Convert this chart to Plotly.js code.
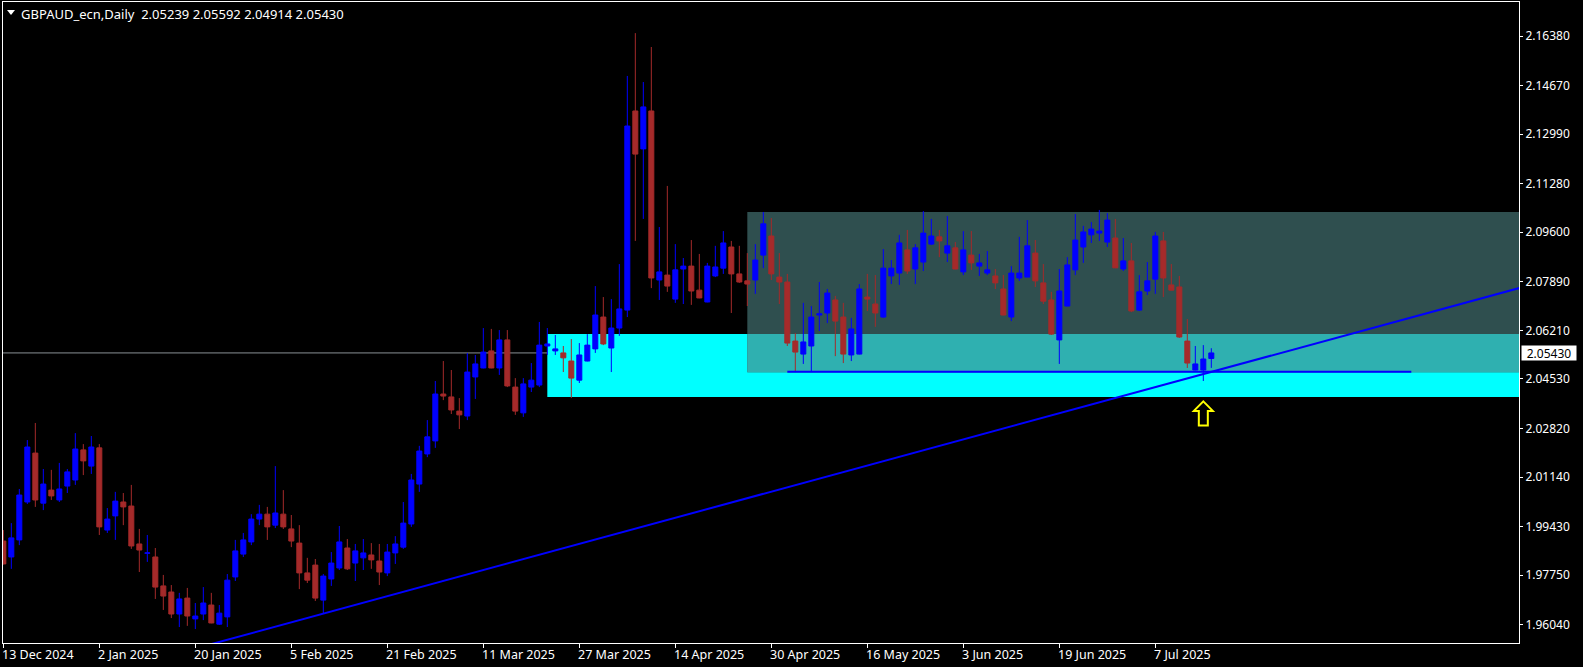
<!DOCTYPE html>
<html><head><meta charset="utf-8">
<script src="https://cdn.plot.ly/plotly-3.0.1.min.js"></script>
<style>html,body{margin:0;padding:0;background:#000;}#chart{width:1583px;height:667px;}</style>
</head><body><div id="chart"></div>
<script>
const dates = [
"2024-12-13","2024-12-16","2024-12-17","2024-12-18","2024-12-19","2024-12-20","2024-12-23","2024-12-24","2024-12-26","2024-12-27","2024-12-30","2024-12-31",
"2025-01-02","2025-01-03","2025-01-06","2025-01-07","2025-01-08","2025-01-09","2025-01-10","2025-01-13","2025-01-14","2025-01-15","2025-01-16","2025-01-17",
"2025-01-20","2025-01-21","2025-01-22","2025-01-23","2025-01-24","2025-01-27","2025-01-28","2025-01-29","2025-01-30","2025-01-31","2025-02-03","2025-02-04",
"2025-02-05","2025-02-06","2025-02-07","2025-02-10","2025-02-11","2025-02-12","2025-02-13","2025-02-14","2025-02-17","2025-02-18","2025-02-19","2025-02-20",
"2025-02-21","2025-02-24","2025-02-25","2025-02-26","2025-02-27","2025-02-28","2025-03-03","2025-03-04","2025-03-05","2025-03-06","2025-03-07","2025-03-10",
"2025-03-11","2025-03-12","2025-03-13","2025-03-14","2025-03-17","2025-03-18","2025-03-19","2025-03-20","2025-03-21","2025-03-24","2025-03-25","2025-03-26",
"2025-03-27","2025-03-28","2025-03-31","2025-04-01","2025-04-02","2025-04-03","2025-04-04","2025-04-07","2025-04-08","2025-04-09","2025-04-10","2025-04-11",
"2025-04-14","2025-04-15","2025-04-16","2025-04-17","2025-04-18","2025-04-21","2025-04-22","2025-04-23","2025-04-24","2025-04-25","2025-04-28","2025-04-29",
"2025-04-30","2025-05-01","2025-05-02","2025-05-05","2025-05-06","2025-05-07","2025-05-08","2025-05-09","2025-05-12","2025-05-13","2025-05-14","2025-05-15",
"2025-05-16","2025-05-19","2025-05-20","2025-05-21","2025-05-22","2025-05-23","2025-05-26","2025-05-27","2025-05-28","2025-05-29","2025-05-30","2025-06-02",
"2025-06-03","2025-06-04","2025-06-05","2025-06-06","2025-06-09","2025-06-10","2025-06-11","2025-06-12","2025-06-13","2025-06-16","2025-06-17","2025-06-18",
"2025-06-19","2025-06-20","2025-06-23","2025-06-24","2025-06-25","2025-06-26","2025-06-27","2025-06-30","2025-07-01","2025-07-02","2025-07-03","2025-07-04",
"2025-07-07","2025-07-08","2025-07-09","2025-07-10","2025-07-11","2025-07-14","2025-07-15","2025-07-16"];

const opens = [
1.9893,1.9838,1.9897,2.0028,2.0197,2.0024,2.0069,2.0035,2.0083,2.0104,2.0208,2.0152,
2.0215,1.9931,1.9980,2.0028,2.0014,1.9883,1.9851,1.9838,1.9738,1.9717,1.9641,1.9696,
1.9624,1.9641,1.9672,1.9606,1.9631,1.9769,1.9848,1.9890,1.9969,1.9986,1.9948,1.9986,
1.9935,1.9886,1.9783,1.9810,1.9689,1.9762,1.9800,1.9869,1.9817,1.9835,1.9845,1.9824,
1.9783,1.9852,1.9872,1.9952,2.0090,2.0194,2.0239,2.0401,2.0391,2.0342,2.0325,2.0460,
2.0491,2.0550,2.0491,2.0588,2.0425,2.0336,2.0425,2.0432,2.0567,2.0550,2.0543,2.0515,
2.0449,2.0515,2.0557,2.0667,2.0560,2.0629,2.0691,2.1379,2.1248,2.1379,2.0795,2.0812,
2.0729,2.0833,2.0843,2.0760,2.0719,2.0809,2.0836,2.0909,2.0816,2.0792,2.0795,2.0881,
2.0947,2.0805,2.0788,2.0584,2.0539,2.0567,2.0674,2.0681,2.0726,2.0667,2.0536,2.0539,
2.0736,2.0712,2.0667,2.0809,2.0819,2.0899,2.0833,2.0857,2.0919,2.0944,2.0888,2.0906,
2.0823,2.0881,2.0843,2.0819,2.0809,2.0764,2.0667,2.0802,2.0805,2.0888,2.0785,2.0726,
2.0588,2.0705,2.0830,2.0909,2.0951,2.0957,2.0926,2.0940,2.0833,2.0861,2.0691,2.0757,
2.0798,2.0930,2.0778,2.0771,2.0584,2.0484,2.0484,2.05239];

const highs = [
1.9931,1.9955,2.0073,2.0242,2.0301,2.0142,2.0139,2.0163,2.0142,2.0266,2.0228,2.0256,
2.0228,2.0007,2.0063,2.0059,2.0087,1.9935,1.9914,1.9869,1.9776,1.9741,1.9714,1.9731,
1.9679,1.9734,1.9714,1.9672,1.9779,1.9897,1.9921,1.9986,2.0018,2.0011,2.0152,2.0069,
1.9983,1.9948,1.9835,1.9831,1.9779,1.9855,1.9945,1.9900,1.9883,1.9900,1.9886,1.9883,
1.9883,1.9910,2.0028,2.0125,2.0222,2.0311,2.0446,2.0515,2.0484,2.0387,2.0543,2.0536,
2.0629,2.0626,2.0622,2.0622,2.0456,2.0456,2.0508,2.0650,2.0629,2.0605,2.0567,2.0591,
2.0577,2.0608,2.0774,2.0736,2.0729,2.0850,2.1500,2.1648,2.1479,2.1600,2.0978,2.1120,
2.0919,2.0871,2.0933,2.0885,2.0854,2.0913,2.0964,2.0930,2.0913,2.0888,2.0919,2.1030,
2.1009,2.0888,2.0816,2.0612,2.0716,2.0705,2.0788,2.0764,2.0740,2.0716,2.0664,2.0781,
2.0816,2.0812,2.0902,2.0864,2.0951,2.0968,2.0919,2.1033,2.1006,2.0968,2.1016,2.0926,
2.0964,2.0964,2.0885,2.0895,2.0833,2.0812,2.0843,2.0944,2.1002,2.0933,2.0850,2.0754,
2.0833,2.0874,2.1023,2.0982,2.0995,2.1037,2.1026,2.1006,2.0940,2.0923,2.0812,2.0857,
2.0961,2.0961,2.0850,2.0809,2.0660,2.0567,2.0570,2.05592];

const lows = [
1.9812,1.9797,1.9879,2.0021,2.0011,2.0000,2.0035,2.0028,2.0059,2.0087,2.0121,2.0125,
1.9914,1.9921,1.9897,1.9948,1.9866,1.9786,1.9821,1.9693,1.9655,1.9627,1.9596,1.9600,
1.9589,1.9620,1.9609,1.9603,1.9596,1.9755,1.9838,1.9879,1.9948,1.9897,1.9938,1.9935,
1.9872,1.9727,1.9748,1.9686,1.9644,1.9738,1.9793,1.9793,1.9755,1.9793,1.9797,1.9741,
1.9772,1.9814,1.9866,1.9942,2.0063,2.0183,2.0215,2.0380,2.0332,2.0280,2.0311,2.0384,
2.0490,2.0490,2.0467,2.0425,2.0329,2.0322,2.0408,2.0425,2.0536,2.0536,2.0477,2.0387,
2.0439,2.0514,2.0543,2.0570,2.0477,2.0602,2.0667,2.0930,2.1006,2.0767,2.0726,2.0754,
2.0716,2.0712,2.0709,2.0732,2.0718,2.0805,2.0816,2.0681,2.0785,2.0705,2.0747,2.0836,
2.0795,2.0712,2.0567,2.0477,2.0505,2.0477,2.0619,2.0646,2.0532,2.0508,2.0515,2.0538,
2.0688,2.0633,2.0664,2.0781,2.0778,2.0816,2.0781,2.0826,2.0916,2.0874,2.0857,2.0832,
2.0812,2.0830,2.0809,2.0812,2.0764,2.0673,2.0653,2.0792,2.0805,2.0771,2.0712,2.0605,
2.0505,2.0704,2.0812,2.0854,2.0923,2.0930,2.0909,2.0836,2.0826,2.0684,2.0688,2.0743,
2.0747,2.0736,2.0759,2.0595,2.0491,2.0483,2.0446,2.04914];

const closes = [
1.9814,1.9904,2.0052,2.0218,2.0035,2.0090,2.0049,2.0073,2.0132,2.0211,2.0170,2.0218,
1.9942,1.9969,2.0031,2.0011,1.9876,1.9862,1.9852,1.9734,1.9703,1.9641,1.9693,1.9634,
1.9634,1.9679,1.9610,1.9644,1.9758,1.9859,1.9897,1.9969,1.9986,1.9942,1.9990,1.9942,
1.9893,1.9783,1.9758,1.9696,1.9772,1.9817,1.9890,1.9797,1.9859,1.9852,1.9828,1.9786,
1.9855,1.9883,1.9955,2.0104,2.0204,2.0253,2.0401,2.0394,2.0346,2.0329,2.0477,2.0505,
2.0546,2.0491,2.0588,2.0429,2.0342,2.0436,2.0449,2.0570,2.0574,2.0557,2.0526,2.0456,
2.0536,2.0570,2.0674,2.0574,2.0629,2.0695,2.1327,2.1230,2.1393,2.0802,2.0823,2.0774,
2.0830,2.0843,2.0757,2.0733,2.0843,2.0840,2.0923,2.0816,2.0788,2.0781,2.0864,2.0989,
2.0816,2.0788,2.0577,2.0546,2.0581,2.0667,2.0678,2.0750,2.0653,2.0539,2.0626,2.0764,
2.0729,2.0681,2.0836,2.0836,2.0923,2.0826,2.0906,2.0957,2.0947,2.0930,2.0913,2.0833,
2.0899,2.0854,2.0854,2.0830,2.0785,2.0674,2.0819,2.0819,2.0913,2.0792,2.0722,2.0608,
2.0757,2.0847,2.0933,2.0961,2.0971,2.0964,2.1002,2.0837,2.0861,2.0688,2.0754,2.0792,
2.0947,2.0802,2.0760,2.0598,2.0508,2.0505,2.0522,2.05430];

const chartTitle = "GBPAUD_ecn,Daily";
const bidPrice = 2.05430;
const priceTicks = [2.16380,2.14670,2.12990,2.11280,2.09600,2.07890,2.06210,2.04530,2.02820,2.01140,1.99430,1.97750,1.96040];
const dateTickDates = ["2024-12-13","2025-01-02","2025-01-20","2025-02-05","2025-02-21","2025-03-11","2025-03-27","2025-04-14","2025-04-30","2025-05-16","2025-06-03","2025-06-19","2025-07-07"];
const dateTickLabels = ["13 Dec 2024","2 Jan 2025","20 Jan 2025","5 Feb 2025","21 Feb 2025","11 Mar 2025","27 Mar 2025","14 Apr 2025","30 Apr 2025","16 May 2025","3 Jun 2025","19 Jun 2025","7 Jul 2025"];

// zones: [cyan demand zone, dark range box]
const zoneStartDates = ["2025-03-21","2025-04-25"];
const zoneTops = [2.0608, 2.1030];
const zoneBottoms = [2.0391, 2.0476];
const zoneColors = ["#00ffff", "#2f4f4f"];
const zoneOverlapColor = "#2fb0b0";

const supportDates = ["2025-05-02","2025-08-20"];
const supportPrice = 2.0478;
const trendDates = ["2025-01-20","2025-07-15"];
const trendPrices = [1.9522, 2.0470];
const arrowDate = "2025-07-15";
const arrowPrice = 2.0379;

// bar index of a date (weekday count past the last bar for future dates)
function barIndex(d) {
  const k = dates.indexOf(d);
  if (k >= 0) return k;
  let cur = new Date(dates[dates.length-1] + "T00:00:00Z");
  const target = new Date(d + "T00:00:00Z");
  let n = dates.length - 1;
  while (cur < target) {
    cur = new Date(cur.getTime() + 86400000);
    const wd = cur.getUTCDay();
    if (wd !== 0 && wd !== 6) n++;
  }
  return n;
}

const xIdx = dates.map((d, i) => i);
const FONT = "Noto Sans, DejaVu Sans, sans-serif";
const X_RANGE = [-0.04, 189.46];
const Y_RANGE = [1.95408, 2.17555];

const candle = {
  type: "candlestick", x: xIdx, open: opens, high: highs, low: lows, close: closes,
  increasing: {line: {color: "#0000ff", width: 1}, fillcolor: "#0000ff"},
  decreasing: {line: {color: "#a52a2a", width: 1}, fillcolor: "#a52a2a"},
  whiskerwidth: 0, hoverinfo: "skip", showlegend: false
};

const t0 = barIndex(trendDates[0]), t1 = barIndex(trendDates[1]);
const slope = (trendPrices[1] - trendPrices[0]) / (t1 - t0);
const tEnd = X_RANGE[1] + 5;
const trend = {
  type: "scatter", mode: "lines",
  x: [t0, t1, tEnd],
  y: [trendPrices[0], trendPrices[1], trendPrices[1] + slope * (tEnd - t1)],
  line: {color: "#0000ff", width: 2}, hoverinfo: "skip", showlegend: false
};

const shapes = [];
zoneStartDates.forEach((d, i) => {
  shapes.push({type: "rect", xref: "x", yref: "y", x0: barIndex(d), x1: X_RANGE[1] + 10,
    y0: zoneBottoms[i], y1: zoneTops[i], fillcolor: zoneColors[i], line: {width: 0}, layer: "below"});
});
shapes.push({type: "rect", xref: "x", yref: "y",
  x0: Math.max(barIndex(zoneStartDates[0]), barIndex(zoneStartDates[1])), x1: X_RANGE[1] + 10,
  y0: Math.max(zoneBottoms[0], zoneBottoms[1]), y1: Math.min(zoneTops[0], zoneTops[1]),
  fillcolor: zoneOverlapColor, line: {width: 0}, layer: "below"});
shapes.push({type: "line", xref: "paper", yref: "y", x0: 0, x1: 1, y0: bidPrice, y1: bidPrice,
  line: {color: "#8a9096", width: 1}, layer: "below"});
shapes.push({type: "line", xref: "x", yref: "y", x0: barIndex(supportDates[0]), x1: barIndex(supportDates[1]),
  y0: supportPrice, y1: supportPrice, line: {color: "#0000ff", width: 2}, layer: "above"});
shapes.push({type: "path", xref: "x", yref: "y", xsizemode: "pixel", ysizemode: "pixel",
  xanchor: barIndex(arrowDate), yanchor: arrowPrice,
  path: "M 0,-1 L 9.5,-10.5 L 4.5,-10.5 L 4.5,-25 L -4.5,-25 L -4.5,-10.5 L -9.5,-10.5 Z",
  line: {color: "#ffff00", width: 2}, fillcolor: "rgba(0,0,0,0)", layer: "above"});
shapes.push({type: "path", xref: "paper", yref: "paper", xsizemode: "pixel", ysizemode: "pixel",
  xanchor: 0, yanchor: 1, path: "M 4,-8 L 12,-8 L 8,-13 Z",
  line: {color: "#ffffff", width: 0}, fillcolor: "#ffffff", layer: "above"});

const annotations = [];
const last = dates.length - 1;
const fmt = v => v.toFixed(5);
annotations.push({xref: "paper", yref: "paper", x: 0, y: 1, xanchor: "left", yanchor: "top",
  xshift: 16, yshift: -1, showarrow: false,
  text: chartTitle + "\u00a0\u00a0" + [opens[last], highs[last], lows[last], closes[last]].map(fmt).join(" "),
  font: {family: FONT, size: 13, color: "#ffffff"}});
dateTickDates.forEach((d, i) => {
  annotations.push({xref: "x", yref: "paper", x: barIndex(d), y: 0, xanchor: "left", yanchor: "top",
    xshift: -3, yshift: -1, showarrow: false, text: dateTickLabels[i],
    font: {family: FONT, size: 12.5, color: "#ffffff"}});
});
annotations.push({xref: "paper", yref: "y", x: 1, y: bidPrice, xanchor: "left", yanchor: "middle",
  xshift: 2, showarrow: false, text: fmt(bidPrice), bgcolor: "#ffffff", borderpad: 1,
  width: 52, height: 12, align: "center", font: {family: FONT, size: 12, color: "#000000"}});

const layout = {
  width: 1583, height: 667,
  paper_bgcolor: "#000000", plot_bgcolor: "#000000",
  margin: {l: 3, r: 64, t: 2, b: 24, autoexpand: false},
  showlegend: false, hovermode: false,
  boxgap: 0.375, boxgroupgap: 0,
  xaxis: {type: "linear", range: X_RANGE, showgrid: false, zeroline: false,
    showline: true, linecolor: "#ffffff", linewidth: 1, mirror: true,
    ticks: "outside", ticklen: 4, tickcolor: "#ffffff", tickwidth: 1,
    tickmode: "array", tickvals: dateTickDates.map(barIndex), showticklabels: false,
    rangeslider: {visible: false}, fixedrange: true, automargin: false},
  yaxis: {range: Y_RANGE, side: "right", showgrid: false, zeroline: false,
    showline: true, linecolor: "#ffffff", linewidth: 1, mirror: true,
    ticks: "outside", ticklen: 3, tickcolor: "#ffffff", tickwidth: 1,
    tickmode: "array", tickvals: priceTicks, ticktext: priceTicks.map(fmt),
    tickfont: {family: FONT, size: 12, color: "#ffffff"}, fixedrange: true, automargin: false},
  shapes: shapes, annotations: annotations
};

Plotly.newPlot("chart", [candle, trend], layout, {staticPlot: true, displayModeBar: false});
</script></body></html>
